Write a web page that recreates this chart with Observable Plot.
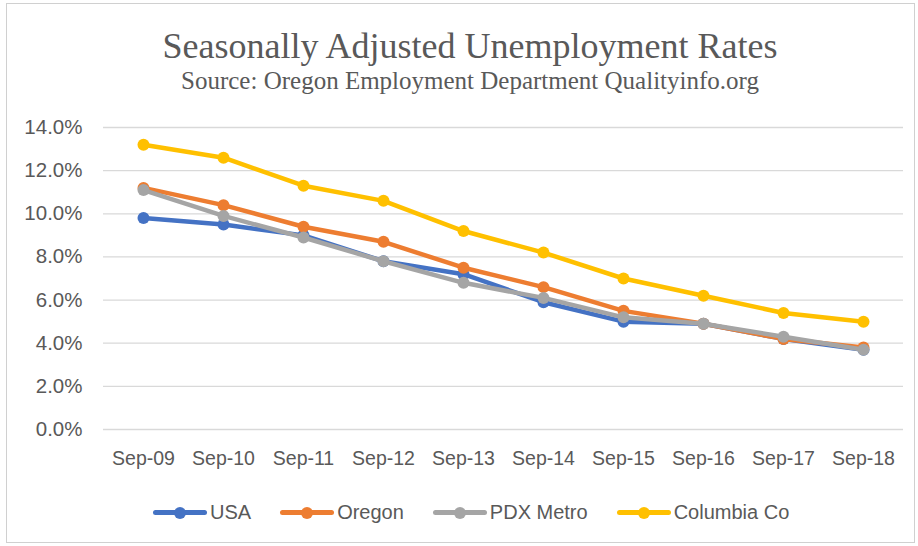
<!DOCTYPE html>
<html>
<head>
<meta charset="utf-8">
<script src="https://cdn.jsdelivr.net/npm/d3@7"></script>
<script src="https://cdn.jsdelivr.net/npm/@observablehq/plot@0.6"></script>
<style>
  html, body { margin: 0; padding: 0; background: #fff; }
  #wrap { position: relative; width: 918px; height: 546px; overflow: hidden; background: #fff; }
  #frame { position: absolute; left: 6px; top: 3px; width: 909px; height: 540px; border: 1px solid #d0d0d0; box-sizing: border-box; }
  #title { position: absolute; left: 0; width: 940px; top: 28px; text-align: center; font-family: "Liberation Serif", "DejaVu Serif", serif; font-size: 36px; color: #595959; line-height: 1; }
  #subtitle { position: absolute; left: 0; width: 940px; top: 68px; text-align: center; font-family: "Liberation Serif", "DejaVu Serif", serif; font-size: 25px; color: #595959; line-height: 1; }
  #chart { position: absolute; left: 0; top: 0; }
  #legend { position: absolute; left: 153px; top: 500px; display: flex; gap: 29px; font-family: "Liberation Sans", Arial, sans-serif; font-size: 20px; color: #595959; }
  .item { display: flex; align-items: center; gap: 3px; }
  .sw { position: relative; width: 54px; height: 24px; }
  .sw .ln { position: absolute; left: 0; right: 0; top: 10px; height: 5px; border-radius: 2.5px; }
  .sw .pt { position: absolute; left: 21px; top: 7px; width: 12px; height: 12px; border-radius: 50%; }
</style>
</head>
<body>
<div id="wrap">
  <div id="frame"></div>
  <div id="chart"></div>
  <div id="title">Seasonally Adjusted Unemployment Rates</div>
  <div id="subtitle">Source: Oregon Employment Department Qualityinfo.org</div>
  <div id="legend"></div>
</div>
<script>
const categories = ["Sep-09","Sep-10","Sep-11","Sep-12","Sep-13","Sep-14","Sep-15","Sep-16","Sep-17","Sep-18"];
const seriesNames = ["USA","Oregon","PDX Metro","Columbia Co"];
const usa      = [9.8, 9.5, 9.0, 7.8, 7.2, 5.9, 5.0, 4.9, 4.2, 3.7];
const oregon   = [11.2, 10.4, 9.4, 8.7, 7.5, 6.6, 5.5, 4.9, 4.2, 3.8];
const pdx      = [11.1, 9.9, 8.9, 7.8, 6.8, 6.1, 5.2, 4.9, 4.3, 3.7];
const columbia = [13.2, 12.6, 11.3, 10.6, 9.2, 8.2, 7.0, 6.2, 5.4, 5.0];
const yTicks = [0, 2, 4, 6, 8, 10, 12, 14];
const colors = ["#4472C4", "#ED7D31", "#A5A5A5", "#FFC000"];

const seriesValues = [usa, oregon, pdx, columbia];
const data = [];
seriesNames.forEach((s, i) => categories.forEach((c, j) => data.push({series: s, cat: c, value: seriesValues[i][j]})));

const marks = [
  Plot.gridY(yTicks, {stroke: "#d9d9d9", strokeOpacity: 1, strokeWidth: 1.3}),
  Plot.axisY(yTicks, {tickSize: 0, tickPadding: 21, tickFormat: d => d.toFixed(1) + "%", fontSize: 20.5, fill: "#595959", label: null}),
  Plot.axisX({tickSize: 0, tickPadding: 22, fontSize: 19.5, fill: "#595959", label: null})
];
seriesNames.forEach((s, i) => {
  const d = data.filter(r => r.series === s);
  marks.push(Plot.line(d, {x: "cat", y: "value", stroke: colors[i], strokeWidth: 4.5}));
  marks.push(Plot.dot(d, {x: "cat", y: "value", fill: colors[i], r: 6}));
});

const chart = Plot.plot({
  width: 918,
  height: 480,
  marginTop: 127,
  marginBottom: 51,
  marginLeft: 103,
  marginRight: 15,
  style: {fontFamily: "'Liberation Sans', Arial, sans-serif", background: "transparent", color: "#595959"},
  x: {type: "point", domain: categories, padding: 0.5},
  y: {domain: [0, 14]},
  marks
});
document.getElementById("chart").appendChild(chart);

const legend = document.getElementById("legend");
seriesNames.forEach((s, i) => {
  const it = document.createElement("div");
  it.className = "item";
  it.innerHTML = `<div class="sw"><div class="ln" style="background:${colors[i]}"></div><div class="pt" style="background:${colors[i]}"></div></div><span>${s}</span>`;
  legend.appendChild(it);
});
</script>
</body>
</html>
